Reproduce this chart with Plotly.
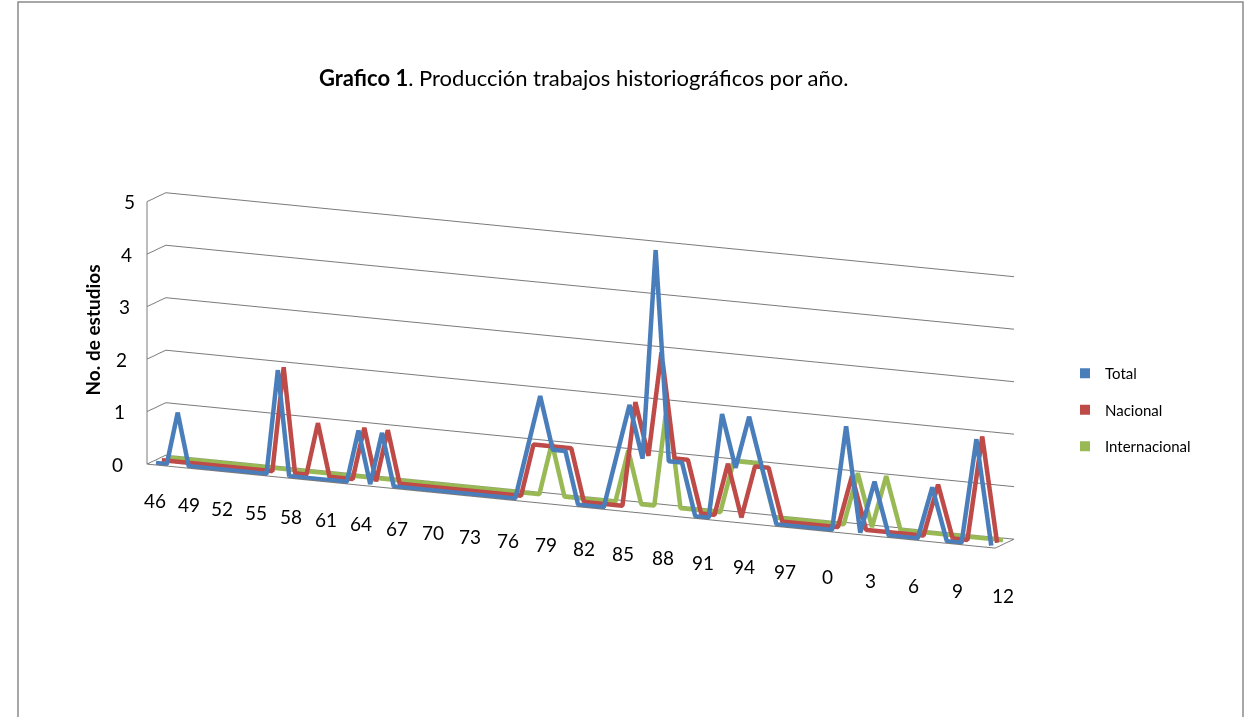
import math
import plotly.graph_objects as go

# ---- data ----
years = list(range(1946, 2013))

total = [
    0, 0, 1, 0, 0, 0, 0, 0, 0, 0,   # 1946-1955
    0, 2, 0, 0, 0, 0, 0, 0, 1, 0,   # 1956-1965
    1, 0, 0, 0, 0, 0, 0, 0, 0, 0,   # 1966-1975
    0, 0, 1, 2, 1, 1, 0, 0, 0, 1,   # 1976-1985
    2, 1, 5, 1, 1, 0, 0, 2, 1, 2,   # 1986-1995
    1, 0, 0, 0, 0, 0, 2, 0, 1, 0,   # 1996-2005
    0, 0, 1, 0, 0, 2, 0,            # 2006-2012
]
nacional = [
    0, 0, 0, 0, 0, 0, 0, 0, 0, 0,
    0, 2, 0, 0, 1, 0, 0, 0, 1, 0,
    1, 0, 0, 0, 0, 0, 0, 0, 0, 0,
    0, 0, 1, 1, 1, 1, 0, 0, 0, 0,
    2, 1, 3, 1, 1, 0, 0, 1, 0, 1,
    1, 0, 0, 0, 0, 0, 1, 0, 0, 0,
    0, 0, 1, 0, 0, 2, 0,
]
internacional = [
    0, 0, 0, 0, 0, 0, 0, 0, 0, 0,
    0, 0, 0, 0, 0, 0, 0, 0, 0, 0,
    0, 0, 0, 0, 0, 0, 0, 0, 0, 0,
    0, 0, 0, 1, 0, 0, 0, 0, 0, 1,
    0, 0, 2, 0, 0, 0, 0, 1, 1, 1,
    0, 0, 0, 0, 0, 0, 1, 0, 1, 0,
    0, 0, 0, 0, 0, 0, 0,
]

series_names = ["Total", "Nacional", "Internacional"]
series_values = [total, nacional, internacional]
series_colors = ["#4A7EBB", "#BE4B48", "#98B954"]
series_depth = [0, 1, 2]

tick_years = years[::3]
tick_labels = [str(y % 100) for y in tick_years]
z_ticks = [0, 1, 2, 3, 4, 5]

title_bold = "Grafico 1"
title_rest = ". Producción trabajos historiográficos por año."
z_title = "No. de estudios"

FONT = "Lato, 'Open Sans', sans-serif"
GRID = "#7a7a7a"

# Excel's 3-D perspective widens the category spacing towards the viewer (right).
# A reversed log axis on (VANISH - year) reproduces that widening.
VANISH = 2186


def px(year):
    return VANISH - year


def px_log(year):
    # scene annotations on a log axis are positioned in log10 units
    return math.log10(VANISH - year)


fig = go.Figure()

for name, vals, col, d in zip(series_names, series_values, series_colors, series_depth):
    fig.add_trace(go.Scatter3d(
        x=[px(y) for y in years], y=[d] * len(years), z=vals,
        mode="lines", line=dict(color=col, width=9),
        name=name, showlegend=False, hoverinfo="skip",
    ))
    fig.add_trace(go.Scatter(
        x=[None], y=[None], mode="markers",
        marker=dict(symbol="square", size=10, color=col),
        name=name, legendgroup=name, showlegend=True,
    ))

x_lo, x_hi = years[0] - 0.5, years[-1] + 0.5
y_lo, y_hi = -0.6, 2.6

annotations3d = []
n_ticks = len(tick_years)
for i, (ty, tl) in enumerate(zip(tick_years, tick_labels)):
    frac = i / (n_ticks - 1)
    annotations3d.append(dict(
        x=px_log(ty), y=y_lo, z=0, text=tl, showarrow=False,
        font=dict(family=FONT, size=19, color="#000"),
        yshift=-(36 + 12 * frac), xshift=3 + 12 * frac,
    ))
for zt in z_ticks:
    annotations3d.append(dict(
        x=px_log(x_lo), y=y_lo, z=zt, text=str(zt), showarrow=False,
        font=dict(family=FONT, size=19, color="#000"),
        xshift=-30 + 2.4 * zt,
    ))

axis_common = dict(
    showbackground=False, showspikes=False, title=dict(text=""),
    showticklabels=False, ticks="", zeroline=False,
    linecolor=GRID, linewidth=2, gridcolor=GRID, gridwidth=2,
)

# camera: azimuth / elevation of the Excel 3-D view
phi = math.radians(24.5)
theta = math.radians(13.5)
L = 2.0
eye = dict(x=L * math.sin(phi) * math.cos(theta),
           y=-L * math.cos(phi) * math.cos(theta),
           z=L * math.sin(theta))

fig.update_layout(
    width=1245, height=717,
    margin=dict(l=0, r=0, t=0, b=0),
    paper_bgcolor="white", plot_bgcolor="white",
    font=dict(family=FONT),
    xaxis=dict(visible=False), yaxis=dict(visible=False),
    scene=dict(
        domain=dict(x=[0.0, 0.9325], y=[0.0, 1.0]),
        xaxis=dict(axis_common, type="log",
                   range=[px_log(x_lo), px_log(x_hi)],
                   showgrid=False, showline=True),
        yaxis=dict(axis_common, range=[y_lo, y_hi], showgrid=False, showline=True),
        zaxis=dict(axis_common, range=[0, 5], showgrid=True, showline=True,
                   tickvals=z_ticks),
        aspectmode="manual",
        aspectratio=dict(x=2.6, y=0.126, z=0.75),
        camera=dict(eye=eye,
                    center=dict(x=0, y=0, z=0.034),
                    up=dict(x=0, y=0, z=1),
                    projection=dict(type="orthographic")),
        annotations=annotations3d,
    ),
    legend=dict(
        x=1065 / 1245, y=1 - 357 / 717, xanchor="left", yanchor="top",
        font=dict(family=FONT, size=15, color="#000"),
        bgcolor="rgba(0,0,0,0)", tracegroupgap=14, traceorder="grouped",
        itemwidth=30,
    ),
    annotations=[
        dict(text="<b>" + title_bold + "</b>" + title_rest,
             x=583 / 1245, y=1 - 62 / 717, xref="paper", yref="paper",
             showarrow=False, font=dict(family=FONT, size=22, color="#000")),
        dict(text="<b>" + z_title + "</b>",
             x=78 / 1245, y=1 - 330 / 717, xref="paper", yref="paper",
             textangle=-90, showarrow=False,
             font=dict(family=FONT, size=19, color="#000")),
    ],
    shapes=[
        dict(type="rect", xref="paper", yref="paper",
             x0=18 / 1245, x1=1243 / 1245, y0=-0.05, y1=1 - 2 / 717,
             line=dict(color="#8a8a8a", width=1.5), fillcolor="rgba(0,0,0,0)"),
    ],
)

fig.write_html("out.html", config={"displayModeBar": False},
               post_script="document.body.style.margin='0';")
